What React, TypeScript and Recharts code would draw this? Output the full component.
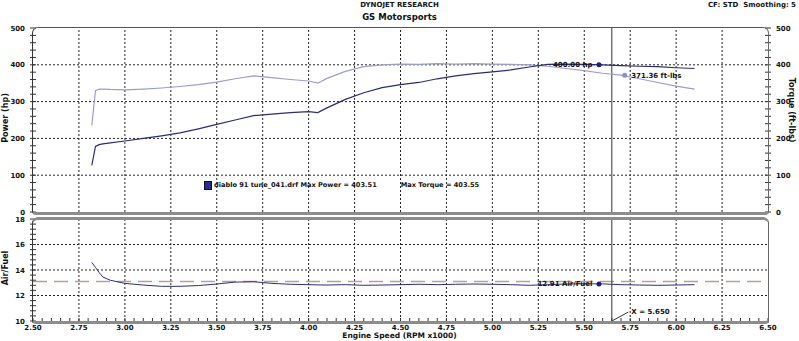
import React from "react";
import { LineChart, Line, XAxis, YAxis, ReferenceLine, ReferenceDot } from "recharts";

// engine speed (RPM x1000) for each sample
const rpm = [2.82, 2.84, 2.86, 2.88, 2.92, 3.0, 3.1, 3.2, 3.3, 3.4, 3.5, 3.6, 3.7, 3.8, 3.9, 4.0, 4.05, 4.1, 4.2, 4.3, 4.4, 4.5, 4.6, 4.7, 4.8, 4.9, 5.0, 5.1, 5.2, 5.3, 5.4, 5.5, 5.6, 5.7, 5.8, 5.9, 6.0, 6.1];
const powerHp = [127, 178, 183, 185, 188, 193, 200, 207, 215, 226, 238, 250, 262, 266, 270, 273, 270, 283, 306, 324, 338, 346, 352, 362, 370, 376, 381, 386, 394, 401, 402, 401, 400, 398, 396, 395, 392, 390];
const torqueFtLbs = [235, 330, 334, 334, 333, 332, 334, 337, 341, 346, 353, 362, 370, 365, 360, 356, 350, 363, 382, 395, 400, 402, 401, 403, 402, 403, 402, 401, 400, 396, 390, 384, 377, 372, 362, 352, 342, 334];
const airFuel = [14.6, 14.2, 13.8, 13.45, 13.2, 12.95, 12.82, 12.72, 12.72, 12.78, 12.9, 13.05, 13.08, 12.95, 12.88, 12.85, 12.83, 12.82, 12.85, 12.8, 12.82, 12.85, 12.88, 12.85, 12.88, 12.9, 12.88, 12.85, 12.8, 12.85, 12.9, 12.92, 12.91, 12.85, 12.82, 12.8, 12.82, 12.85];

const xMajorTicks = [2.5, 2.75, 3.0, 3.25, 3.5, 3.75, 4.0, 4.25, 4.5, 4.75, 5.0, 5.25, 5.5, 5.75, 6.0, 6.25, 6.5];
const powerGrid = [100, 200, 300, 400];
const afrGrid = [12, 14, 16];
const afrTarget = 13.1;
const cursorRpm = 5.65;

// minor tick marks
const xTicks = Array.from({ length: 81 }, (_, i) => Math.round((2.5 + i * 0.05) * 100) / 100);
const powerTicks = Array.from({ length: 26 }, (_, i) => i * 20);
const afrTicks = Array.from({ length: 21 }, (_, i) => Math.round((10 + i * 0.4) * 10) / 10);

const data = rpm.map((r, i) => ({ rpm: r, hp: powerHp[i], tq: torqueFtLbs[i], afr: airFuel[i] }));

const FONT = "'DejaVu Sans', Verdana, sans-serif";
const txt = { fontFamily: FONT, fontWeight: 700, fontSize: 7, fill: "#111" } as const;

const isMult = (v: number, step: number) => Math.abs(v / step - Math.round(v / step)) < 1e-6;

const YTick = (props: any) => {
  const { x, y, payload, side, step } = props;
  const v = payload.value;
  const major = isMult(v, step);
  const dir = side === "left" ? -1 : 1;
  return (
    <g>
      <line x1={x - 3} x2={x + 3} y1={y} y2={y} stroke="#333" />
      {major && (
        <text x={x + dir * 8} y={y + 2.5} textAnchor={side === "left" ? "end" : "start"} style={txt}>
          {v}
        </text>
      )}
    </g>
  );
};

const XTick = (props: any) => {
  const { x, y, payload } = props;
  const v = payload.value;
  return (
    <g>
      <line x1={x} x2={x} y1={y - 3} y2={y + 2} stroke="#333" />
      {isMult(v, 0.25) && (
        <text x={x} y={y + 8.5} textAnchor="middle" style={txt}>
          {v.toFixed(2)}
        </text>
      )}
    </g>
  );
};

const grid = { stroke: "#222", strokeDasharray: "2 2", strokeWidth: 1 };

const abs = (left: number, top: number, extra: React.CSSProperties = {}): React.CSSProperties => ({
  position: "absolute",
  left,
  top,
  fontFamily: FONT,
  fontWeight: 700,
  whiteSpace: "nowrap",
  lineHeight: 1,
  color: "#111",
  ...extra,
});

export default function App() {
  return (
    <div style={{ position: "absolute", left: 0, top: 0, width: 799, height: 341, background: "#fff", overflow: "hidden" }}>
      <div style={abs(0, 2, { width: 799, textAlign: "center", fontSize: 7 })}>DYNOJET RESEARCH</div>
      <div style={abs(0, 13, { width: 799, textAlign: "center", fontSize: 8.5 })}>GS Motorsports</div>
      <div style={abs(0, 2, { width: 796, textAlign: "right", fontSize: 7 })}>CF: STD&nbsp;&nbsp;Smoothing: 5</div>

      <div style={{ position: "absolute", left: 0, top: 0 }}>
        <LineChart width={799} height={220} data={data} margin={{ top: 28, right: 0, bottom: 8, left: 0 }}>
          <XAxis dataKey="rpm" type="number" domain={[2.5, 6.5]} ticks={xMajorTicks} hide />
          <YAxis yAxisId="hp" domain={[0, 500]} ticks={powerTicks} width={33} axisLine={false} tickLine={false}
            tickSize={0} tickMargin={0} interval={0}
            tick={(p: any) => <YTick {...p} side="left" step={100} />} />
          <YAxis yAxisId="tq" orientation="right" domain={[0, 500]} ticks={powerTicks} width={31} axisLine={false}
            tickLine={false} tickSize={0} tickMargin={0} interval={0}
            tick={(p: any) => <YTick {...p} side="right" step={100} />} />
          {xMajorTicks.slice(1, -1).map((v) => (
            <ReferenceLine key={"vx" + v} yAxisId="hp" x={v} {...grid} />
          ))}
          {powerGrid.map((v) => (
            <ReferenceLine key={"hy" + v} yAxisId="hp" y={v} {...grid} />
          ))}
          <ReferenceLine yAxisId="hp" x={cursorRpm} stroke="#333" strokeWidth={1} />
          <Line yAxisId="tq" dataKey="tq" stroke="#9d9dcb" strokeWidth={1.2} dot={false} isAnimationActive={false} />
          <Line yAxisId="hp" dataKey="hp" stroke="#2b2b78" strokeWidth={1.2} dot={false} isAnimationActive={false} />
          <ReferenceDot yAxisId="hp" x={5.58} y={400} r={2.5} fill="#1c1c80" stroke="none"
            label={{ value: "400.00 hp", position: "left", offset: 4, style: txt }} />
          <ReferenceDot yAxisId="tq" x={5.72} y={371.36} r={2.5} fill="#8c8cd0" stroke="none"
            label={{ value: "371.36 ft-lbs", position: "right", offset: 4, style: txt }} />
        </LineChart>
      </div>

      <div style={{ position: "absolute", left: 0, top: 200 }}>
        <LineChart width={799} height={141} data={data} margin={{ top: 19, right: 31, bottom: 0, left: 0 }}>
          <XAxis dataKey="rpm" type="number" domain={[2.5, 6.5]} ticks={xTicks} interval={0} height={20}
            axisLine={false} tickLine={false} tickSize={0} tickMargin={0} tick={(p: any) => <XTick {...p} />} />
          <YAxis domain={[10, 18]} ticks={afrTicks} width={33} axisLine={false} tickLine={false}
            tickSize={0} tickMargin={0} interval={0}
            tick={(p: any) => <YTick {...p} side="left" step={2} />} />
          {xMajorTicks.slice(1, -1).map((v) => (
            <ReferenceLine key={"bx" + v} x={v} {...grid} />
          ))}
          {afrGrid.map((v) => (
            <ReferenceLine key={"by" + v} y={v} {...grid} />
          ))}
          <ReferenceLine y={afrTarget} stroke="#c09a9a" strokeWidth={1.5} strokeDasharray="14 7" />
          <ReferenceLine x={cursorRpm} stroke="#333" strokeWidth={1} />
          <ReferenceLine segment={[{ x: cursorRpm, y: 10 }, { x: 5.74, y: 10.7 }]} stroke="#333" strokeWidth={1} />
          <Line dataKey="afr" stroke="#2e2e7c" strokeWidth={1} dot={false} isAnimationActive={false} />
          <ReferenceDot x={5.58} y={12.91} r={2.5} fill="#1c1c80" stroke="none"
            label={{ value: "12.91 Air/Fuel", position: "left", offset: 4, style: txt }} />
          <ReferenceDot x={5.74} y={10.75} r={0} fill="none" stroke="none"
            label={{ value: "X = 5.650", position: "right", offset: 3, style: txt }} />
        </LineChart>
      </div>

      {/* panel frames */}
      <div style={{ position: "absolute", left: 32, top: 27, width: 737, height: 188, boxSizing: "border-box",
        borderTop: "1px solid #555", borderLeft: "1px solid #333", borderRight: "1px solid #666",
        borderBottom: "3px solid #8c8c8c", borderRadius: "6px 6px 4px 4px", pointerEvents: "none" }} />
      <div style={{ position: "absolute", left: 32, top: 217, width: 737, height: 107, boxSizing: "border-box",
        borderTop: "3px solid #8c8c8c", borderLeft: "1px solid #333", borderRight: "1px solid #666",
        borderBottom: "3px solid #8c8c8c", borderRadius: "6px 6px 4px 4px", pointerEvents: "none" }} />

      {/* legend */}
      <div style={abs(204, 181, { fontSize: 6.6, display: "flex", alignItems: "center" })}>
        <span style={{ display: "inline-block", width: 6, height: 7, background: "#2b2b90", border: "1px solid #111", marginRight: 2 }} />
        <span>diablo 91 tune_041.drf Max Power = 403.51</span>
        <span style={{ marginLeft: 24 }}>Max Torque = 403.55</span>
      </div>

      {/* axis titles */}
      <div style={abs(6, 118, { fontSize: 8, transform: "translate(-50%, -50%) rotate(-90deg)" })}>Power (hp)</div>
      <div style={abs(791, 110, { fontSize: 8, transform: "translate(-50%, -50%) rotate(90deg)" })}>Torque (ft-lbs)</div>
      <div style={abs(6, 268, { fontSize: 8, transform: "translate(-50%, -50%) rotate(-90deg)" })}>Air/Fuel</div>
      <div style={abs(0, 332, { width: 799, textAlign: "center", fontSize: 7.5 })}>Engine Speed (RPM x1000)</div>
    </div>
  );
}
